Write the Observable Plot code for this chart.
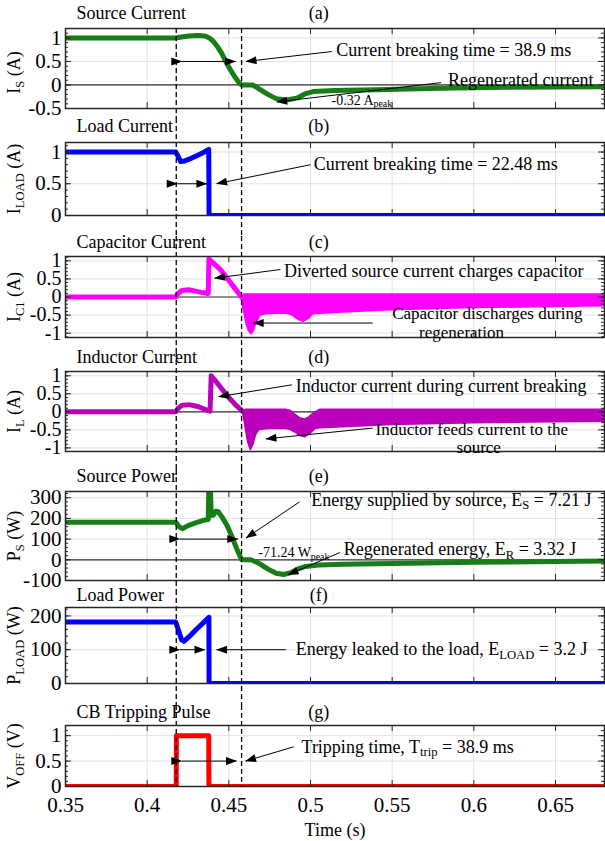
<!DOCTYPE html>
<html><head><meta charset="utf-8">
<script src="https://cdn.jsdelivr.net/npm/d3@7"></script>
<script src="https://cdn.jsdelivr.net/npm/@observablehq/plot@0.6"></script>
<style>
body{margin:0;background:#fff;}
#chart{width:605px;}
#chart svg{display:block;}
</style></head><body><div id="chart"></div>
<script>
const FONT = "'Liberation Serif','Times New Roman',serif";
const xDomain = [0.35, 0.68];
const xTicks = [0.35, 0.4, 0.45, 0.5, 0.55, 0.6, 0.65];
const tDash = [0.4178, 0.4578];
const tagX = 0.505;

// (a) source current
const tIs = [0.35,0.4175,0.421,0.4255,0.431,0.4355,0.438,0.4405,0.4427,0.4455,0.4481,0.4505,0.4535,0.4562,0.4578,0.4645,0.468,0.4739,0.479,0.4855,0.4915,0.4966,0.5017,0.515,0.54,0.58,0.62,0.68];
const Is  = [1,1,1.02,1.04,1.05,1.04,1.0,0.93,0.83,0.68,0.5,0.35,0.18,0.05,0,0,-0.07,-0.2,-0.29,-0.32,-0.28,-0.19,-0.14,-0.12,-0.1,-0.07,-0.05,-0.04];
// (b) load current
const tIload = [0.35,0.4175,0.419,0.4205,0.423,0.427,0.431,0.435,0.4377,0.4379,0.68];
const Iload  = [1,1,0.93,0.85,0.86,0.9,0.95,1.0,1.04,0,0];
// (c) capacitor current
const tIc = [0.35,0.4175,0.419,0.4212,0.4255,0.431,0.4366,0.4374,0.4378,0.441,0.445,0.449,0.453,0.4577];
const Ic  = [0,0,0.1,0.18,0.2,0.15,0.1,0.1,1.05,0.92,0.75,0.52,0.28,0];
const tIcBand = [0.4577,0.4595,0.461,0.4625,0.4638,0.465,0.467,0.4694,0.475,0.485,0.489,0.4925,0.4957,0.499,0.5016,0.52,0.55,0.6,0.65,0.68];
const IcLo = [0,-0.4,-0.75,-0.95,-1.02,-0.95,-0.7,-0.5,-0.46,-0.45,-0.5,-0.62,-0.68,-0.6,-0.47,-0.42,-0.36,-0.3,-0.27,-0.25];
const IcHi = [0,0.06,0.06,0.06,0.06,0.06,0.06,0.06,0.06,0.06,0.06,0.06,0.06,0.06,0.06,0.06,0.06,0.06,0.06,0.06];
// (d) inductor current
const tIL = [0.35,0.4175,0.419,0.4212,0.4255,0.431,0.4366,0.4385,0.4392,0.442,0.446,0.45,0.454,0.4588];
const IL  = [0,0,0.1,0.18,0.2,0.15,0.05,0.02,1.0,0.85,0.62,0.4,0.2,0];
const tILBand = [0.4588,0.4605,0.462,0.4635,0.465,0.4665,0.4685,0.475,0.485,0.488,0.4905,0.4935,0.4966,0.4995,0.503,0.506,0.52,0.55,0.6,0.65,0.68];
const ILLo = [0,-0.45,-0.85,-1.05,-0.9,-0.65,-0.5,-0.47,-0.47,-0.5,-0.56,-0.66,-0.7,-0.62,-0.47,-0.45,-0.42,-0.36,-0.31,-0.28,-0.27];
const ILHi = [0,0.05,0.05,0.05,0.05,0.05,0.05,0.05,0.05,0.02,-0.08,-0.18,-0.22,-0.15,-0.02,0.05,0.05,0.05,0.05,0.05,0.05];
// (e) source power
const tPs = [0.35,0.4175,0.4195,0.4215,0.425,0.43,0.435,0.4374,0.4377,0.4383,0.4388,0.4392,0.4405,0.442,0.4435,0.446,0.449,0.452,0.455,0.4578,0.4635,0.468,0.474,0.479,0.4835,0.488,0.492,0.497,0.505,0.52,0.55,0.6,0.65,0.68];
const Ps  = [182,182,160,150,165,180,192,195,330,400,330,215,215,235,232,205,165,110,50,0,0,-15,-45,-65,-71,-62,-45,-32,-25,-22,-18,-12,-8,-6];
// (f) load power
const tPload = [0.35,0.4175,0.419,0.421,0.4225,0.426,0.43,0.434,0.4378,0.4379,0.68];
const Pload  = [182,182,160,130,125,140,160,178,196,0,0];
// (g) tripping pulse
const tVoff = [0.35,0.4178,0.4179,0.4377,0.4378,0.68];
const Voff  = [0,0,1,1,0,0];

const zip = (t, v) => t.map((x, i) => ({t: x, v: v[i]}));
const zipBand = (t, lo, hi) => t.map((x, i) => ({t: x, lo: lo[i], hi: hi[i]}));

function finish(svg) {
  svg.querySelectorAll("marker").forEach(m => {
    const c = m.getAttribute("stroke") || "black";
    m.setAttribute("viewBox", "-11 -5 12 10");
    m.setAttribute("markerWidth", "12");
    m.setAttribute("markerHeight", "10");
    m.setAttribute("fill", c);
    m.setAttribute("stroke", "none");
    const p = m.querySelector("path");
    if (p) p.setAttribute("d", "M-10.5,-4L0.5,0L-10.5,4Z");
  });
  svg.querySelectorAll("text").forEach(t => {
    const s = t.textContent;
    if (!s.includes("_{")) return;
    while (t.firstChild) t.removeChild(t.firstChild);
    let sub = false;
    for (const part of s.split(/(_\{[^}]*\})/)) {
      if (!part) continue;
      const ts = document.createElementNS("http://www.w3.org/2000/svg", "tspan");
      if (part.startsWith("_{")) {
        ts.textContent = part.slice(2, -1);
        ts.setAttribute("font-size", "70%");
        ts.setAttribute("dy", "0.3em");
        sub = true;
      } else {
        ts.textContent = part;
        if (sub) { ts.setAttribute("dy", "-0.21em"); sub = false; }
      }
      t.appendChild(ts);
    }
  });
  return svg;
}

function panel(o) {
  const W = 605, ml = 65, mr = 1;
  const frameH = o.h - o.mt - o.mb, frameW = W - ml - mr;
  const grid = "#e2e2e2", ink = "#262626";
  const marks = [
    Plot.ruleX(xTicks.slice(1), {stroke: grid, strokeWidth: 1}),
    Plot.ruleY(o.yTicks, {stroke: grid, strokeWidth: 1}),
    Plot.ruleY([0], {stroke: "#333", strokeWidth: 1.2}),
    ...o.marks,
    Plot.ruleX(tDash, {stroke: "#000", strokeWidth: 1.3, strokeDasharray: "5,3",
      insetTop: o.first ? 0 : -o.mt, insetBottom: o.last ? 0 : -o.mb}),
    Plot.frame({stroke: ink, strokeWidth: 1.5}),
    Plot.ruleX(xTicks, {stroke: ink, insetTop: frameH - 6}),
    Plot.ruleX(xTicks, {stroke: ink, insetBottom: frameH - 6}),
    Plot.ruleY(o.yTicks, {stroke: ink, insetRight: frameW - 6}),
    Plot.ruleY(o.yTicks, {stroke: ink, insetLeft: frameW - 6}),
    Plot.ruleY(o.yMinor, {stroke: ink, insetRight: frameW - 3}),
    Plot.ruleY(o.yMinor, {stroke: ink, insetLeft: frameW - 3}),
    Plot.axisY({ticks: o.yTicks, tickSize: 0, tickPadding: 4, fontSize: o.tickSize || 21, tickFormat: d => String(d), label: null}),
    Plot.text([o.title], {frameAnchor: "top-left", dx: 11, dy: o.titleDy, textAnchor: "start", lineAnchor: "middle", fontSize: 18}),
    Plot.text([o.tag], {x: () => tagX, frameAnchor: "top", dy: o.titleDy, textAnchor: "middle", lineAnchor: "middle", fontSize: 18}),
    Plot.text([o.ylabel], {frameAnchor: "left", dx: -51, dy: o.labelDy || 0, rotate: -90, textAnchor: "middle", lineAnchor: "middle", fontSize: 18}),
    ...(o.ann || []).map(a => a.link
      ? Plot.link([a], {x1: "x1", y1: "y1", x2: "x2", y2: "y2", stroke: "#000", strokeWidth: 1, markerEnd: "arrow", markerStart: a.both ? "arrow" : undefined})
      : Plot.text([a], {x: "t", y: "v", text: "text", textAnchor: a.anchor || "start", lineAnchor: "middle", fontSize: a.size || 18}))
  ];
  if (o.last) {
    marks.push(Plot.axisX({ticks: xTicks, tickSize: 0, tickPadding: 11, fontSize: 21, tickFormat: d => String(d), label: null}));
    marks.push(Plot.text(["Time (s)"], {frameAnchor: "bottom", dy: 44, textAnchor: "middle", lineAnchor: "middle", fontSize: 18}));
  }
  const svg = Plot.plot({
    width: W, height: o.h, marginLeft: ml, marginRight: mr, marginTop: o.mt, marginBottom: o.mb,
    style: {fontFamily: FONT, background: "transparent", overflow: "visible", color: "#000"},
    x: {domain: xDomain, axis: o.last ? undefined : null},
    y: {domain: o.yDomain},
    marks
  });
  return finish(svg);
}

const line = (t, v, color) => Plot.line(zip(t, v), {x: "t", y: "v", stroke: color, strokeWidth: 5, clip: true, strokeLinejoin: "round"});
const band = (t, lo, hi, color) => Plot.areaY(zipBand(t, lo, hi), {x: "t", y1: "lo", y2: "hi", fill: color, stroke: color, strokeWidth: 2, clip: true});

const GREEN = "#177d17", BLUE = "#0000ff", MAG = "#ff00ff", PUR = "#bb00bb", RED = "#ff0000";

const panels = [
  {h: 118, mt: 28, mb: 10, first: true, yDomain: [-0.5, 1.2], yTicks: [-0.5, 0, 0.5, 1], yMinor: d3.ticks(-0.5, 1.2, 17),
   title: "Source Current", tag: "(a)", titleDy: -15, ylabel: "I_{S} (A)", labelDy: 4,
   marks: [line(tIs, Is, GREEN)],
   ann: [
     {text: "Current breaking time = 38.9 ms", t: 0.5157, v: 0.74},
     {link: true, x1: 0.513, y1: 0.71, x2: 0.4605, y2: 0.5},
     {link: true, both: true, x1: 0.4212, y1: 0.5, x2: 0.4541, y2: 0.5},
     {text: "Regenerated current", t: 0.5842, v: 0.1},
     {link: true, x1: 0.58, y1: 0.05, x2: 0.4793, y2: -0.36},
     {text: "-0.32 A_{peak}", t: 0.5129, v: -0.32, size: 14}
   ]},
  {h: 118, mt: 24, mb: 21, yDomain: [0, 1.15], yTicks: [0, 0.5, 1], yMinor: d3.ticks(0, 1.15, 12),
   title: "Load Current", tag: "(b)", titleDy: -16, ylabel: "I_{LOAD} (A)",
   marks: [line(tIload, Iload, BLUE)],
   ann: [
     {text: "Current breaking time = 22.48 ms", t: 0.502, v: 0.8},
     {link: true, x1: 0.5, y1: 0.8, x2: 0.4425, y2: 0.5},
     {link: true, both: true, x1: 0.4184, y1: 0.5, x2: 0.4366, y2: 0.5}
   ]},
  {h: 116, mt: 20, mb: 15, yDomain: [-1.12, 1.12], yTicks: [-1, -0.5, 0, 0.5, 1], yMinor: d3.ticks(-1.1, 1.1, 22), tickSize: 20,
   title: "Capacitor Current", tag: "(c)", titleDy: -14, ylabel: "I_{C1} (A)",
   marks: [line(tIc, Ic, MAG), band(tIcBand, IcLo, IcHi, MAG)],
   ann: [
     {text: "Diverted source current charges capacitor", t: 0.4838, v: 0.72},
     {link: true, x1: 0.4815, y1: 0.76, x2: 0.4413, y2: 0.52},
     {text: "Capacitor discharges during", t: 0.55, v: -0.46, size: 17},
     {text: "regeneration", t: 0.5665, v: -0.98, size: 17},
     {link: true, x1: 0.5381, y1: -0.72, x2: 0.4649, y2: -0.72}
   ]},
  {h: 117, mt: 19, mb: 18, yDomain: [-1.1, 1.12], yTicks: [-1, -0.5, 0, 0.5, 1], yMinor: d3.ticks(-1.1, 1.1, 22), tickSize: 20,
   title: "Inductor Current", tag: "(d)", titleDy: -14, ylabel: "I_{L} (A)",
   marks: [line(tIL, IL, PUR), band(tILBand, ILLo, ILHi, PUR)],
   ann: [
     {text: "Inductor current during current breaking", t: 0.4909, v: 0.72},
     {link: true, x1: 0.4886, y1: 0.75, x2: 0.4437, y2: 0.42},
     {text: "Inductor feeds current to the", t: 0.5398, v: -0.48, size: 17},
     {text: "source", t: 0.603, v: -1.0, anchor: "middle", size: 17},
     {link: true, x1: 0.5381, y1: -0.45, x2: 0.4727, y2: -0.75}
   ]},
  {h: 121, mt: 22, mb: 10, yDomain: [-100, 330], yTicks: [-100, 0, 100, 200, 300], yMinor: d3.ticks(-100, 320, 21),
   title: "Source Power", tag: "(e)", titleDy: -15, ylabel: "P_{S} (W)",
   marks: [line(tPs, Ps, GREEN)],
   ann: [
     {text: "Energy supplied by source, E_{S} = 7.21 J", t: 0.5004, v: 290},
     {link: true, x1: 0.4933, y1: 280, x2: 0.4605, y2: 105},
     {link: true, both: true, x1: 0.42, y1: 100, x2: 0.4555, y2: 100},
     {text: "-71.24 W_{peak}", t: 0.468, v: 35, size: 14},
     {text: "Regenerated energy, E_{R} = 3.32 J", t: 0.5204, v: 50},
     {link: true, x1: 0.518, y1: 35, x2: 0.4862, y2: -72}
   ]},
  {h: 115, mt: 17, mb: 22, yDomain: [0, 225], yTicks: [0, 100, 200], yMinor: d3.ticks(0, 220, 11),
   title: "Load Power", tag: "(f)", titleDy: -12, ylabel: "P_{LOAD} (W)",
   marks: [line(tPload, Pload, BLUE)],
   ann: [
     {text: "Energy leaked to the load, E_{LOAD} = 3.2 J", t: 0.4909, v: 100},
     {link: true, x1: 0.485, y1: 100, x2: 0.4425, y2: 100},
     {link: true, both: true, x1: 0.42, y1: 100, x2: 0.4354, y2: 100}
   ]},
  {h: 138, mt: 20, mb: 57, last: true, yDomain: [0, 1.2], yTicks: [0, 0.5, 1], yMinor: d3.ticks(0, 1.2, 12),
   title: "CB Tripping Pulse", tag: "(g)", titleDy: -13, ylabel: "V_{OFF} (V)",
   marks: [line(tVoff, Voff, RED)],
   ann: [
     {text: "Tripping time, T_{trip} = 38.9 ms", t: 0.4945, v: 0.78},
     {link: true, x1: 0.4897, y1: 0.78, x2: 0.4602, y2: 0.5},
     {link: true, both: true, x1: 0.4212, y1: 0.5, x2: 0.4547, y2: 0.5}
   ]}
];

const root = document.getElementById("chart");
for (const p of panels) root.appendChild(panel(p));
</script>
</body></html>
